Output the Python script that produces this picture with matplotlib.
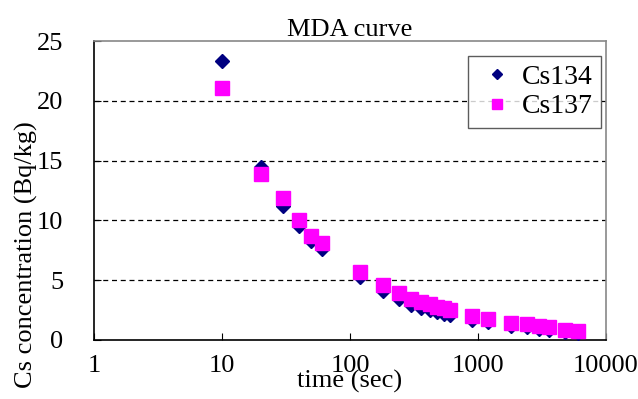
import matplotlib
matplotlib.use("Agg")
import matplotlib.pyplot as plt

plt.rcParams["font.family"] = ["Liberation Serif", "DejaVu Serif"]

# 측정 시간 (sec)
times = [10, 20, 30, 40, 50, 60, 120, 180, 240, 300, 360, 420, 480, 540, 600,
         900, 1200, 1800, 2400, 3000, 3600, 4800, 6000]
cs134 = [23.3, 14.5, 11.2, 9.5, 8.3, 7.6, 5.3, 4.1, 3.4, 2.9, 2.7, 2.5, 2.3, 2.2, 2.1,
         1.7, 1.5, 1.2, 1.05, 0.95, 0.85, 0.7, 0.6]
cs137 = [21.1, 13.9, 11.9, 10.0, 8.7, 8.1, 5.7, 4.6, 3.9, 3.4, 3.2, 3.0, 2.8, 2.7, 2.5,
         2.0, 1.75, 1.45, 1.3, 1.15, 1.05, 0.85, 0.75]

fig = plt.figure(figsize=(6.38, 3.99), dpi=100)
ax = fig.add_axes([94/638, 1 - 340/399, (606-94)/638, (340-41)/399])

ax.plot(times, cs134, linestyle="none", marker="D", ms=7, color="#000080", label="Cs134", zorder=3)
ax.plot(times, cs137, linestyle="none", marker="s", ms=9.5, color="#FF00FF", label="Cs137", zorder=4)

ax.set_xscale("log")
ax.set_xlim(1, 10000)
ax.set_ylim(0, 25)
ax.set_yticks([0, 5, 10, 15, 20, 25])
ax.set_xticks([1, 10, 100, 1000, 10000])
ax.set_xticklabels(["1", "10", "100", "1000", "10000"])
ax.minorticks_off()
ax.tick_params(axis="both", direction="in", labelsize=19, length=5, color="black")
ax.tick_params(axis="y", pad=22)
ax.tick_params(axis="x", pad=11)

for y in [5, 10, 15, 20]:
    ax.axhline(y, color="black", linestyle=(0, (4, 3)), linewidth=0.9, zorder=1)

for side in ["top", "right"]:
    ax.spines[side].set_color("#888888")
    ax.spines[side].set_linewidth(1.2)
for side in ["left", "bottom"]:
    ax.spines[side].set_color("black")
    ax.spines[side].set_linewidth(1.2)

ax.set_title("MDA curve", fontsize=19, pad=2)
ax.set_xlabel("time (sec)", fontsize=19, labelpad=-5)
ax.set_ylabel("Cs concentration (Bq/kg)", fontsize=19)
ax.yaxis.set_label_coords(-0.11, 0.285)

leg = ax.legend(loc="upper right", fontsize=20, frameon=True, fancybox=False,
                edgecolor="#333333", handletextpad=0.15, handlelength=1.5,
                borderpad=0.3, labelspacing=0.15, markerscale=0.75,
                borderaxespad=0, bbox_to_anchor=(0.99, 0.95))
leg.get_frame().set_linewidth(1.0)

fig.savefig("out.png", dpi=100)
